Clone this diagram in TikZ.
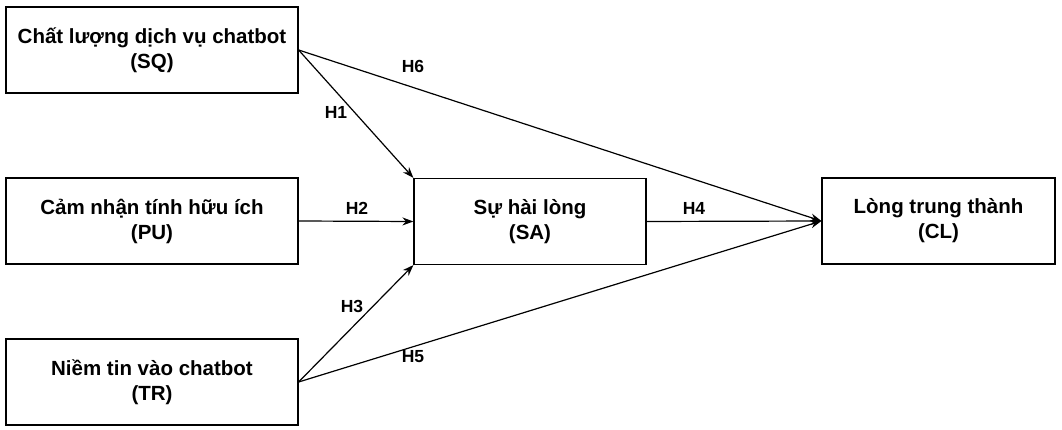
\documentclass[tikz,border=0pt]{standalone}
\usepackage{fontspec}
\setmainfont{Liberation Sans}
\usetikzlibrary{arrows.meta}
\begin{document}
\begin{tikzpicture}[x=1pt,y=-1pt,
 box/.style={draw,line width=1.2pt,minimum width=292pt,minimum height=86pt,align=center,font=\fontsize{20.5}{25}\selectfont\bfseries},
 arr/.style={line width=1.2pt,-{Stealth[length=11pt,width=8pt]}},
 lab/.style={font=\fontsize{17.5}{20}\selectfont\bfseries}]
\useasboundingbox (0,0) rectangle (1062,430);
\node[box] (sq) at (152,50) {Chất lượng dịch vụ chatbot\\(SQ)};
\node[box] (pu) at (152,221) {Cảm nhận tính hữu ích\\(PU)};
\node[box] (tr) at (152,382) {Niềm tin vào chatbot\\(TR)};
\node[box,minimum width=232pt] (sa) at (530,221.5) {Sự hài lòng\\(SA)};
\node[box,minimum width=233pt] (cl) at (938.5,221) {Lòng trung thành\\(CL)};
\draw[arr] (sq.east) -- (sa.north west);
\draw[arr] (sq.east) -- (cl.west);
\draw[arr] (pu.east) -- (sa.west);
\draw[arr] (tr.east) -- (sa.south west);
\draw[arr] (tr.east) -- (cl.west);
\draw[arr] (sa.east) -- (cl.west);
\node[lab] (h6) at (413,66) {H6};
\node[lab] (h1) at (336,112) {H1};
\node[lab] (h2) at (357,208) {H2};
\node[lab] (h3) at (352,306) {H3};
\node[lab] (h5) at (413,357) {H5};
\node[lab] (h4) at (694,208) {H4};
\end{tikzpicture}
\end{document}
